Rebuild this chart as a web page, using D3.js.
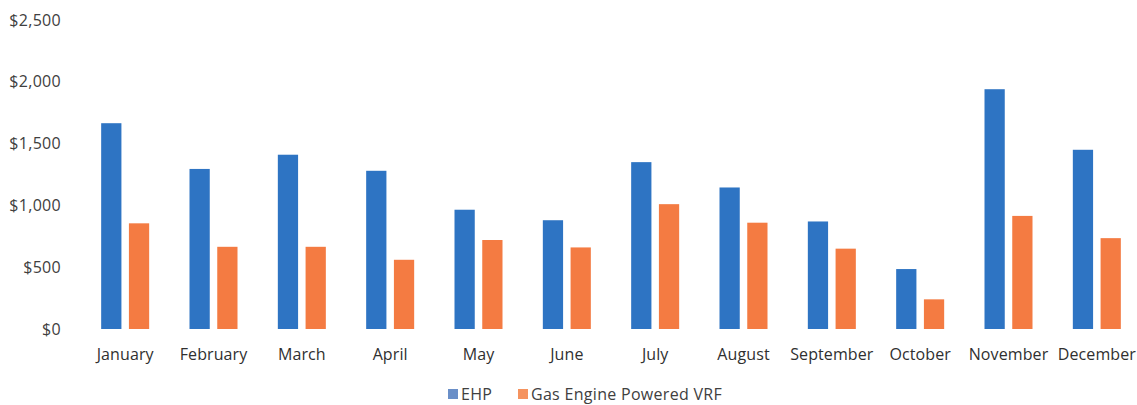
<!DOCTYPE html>
<html lang="en">
<head>
    <meta charset="UTF-8">
    <title>EHP vs Gas Engine VRF</title>
    <script src="https://d3js.org/d3.v7.min.js"></script>
    <style>
        * { margin: 0; padding: 0; box-sizing: border-box; }
        body { background: #fff; font-family: "Open Sans", Arial, sans-serif; }
    </style>
</head>
<body>
    <div id="chart"></div>
    <script>
        const months = ["January", "February", "March", "April", "May", "June",
                        "July", "August", "September", "October", "November", "December"];
        const series = ["EHP", "Gas Engine Powered VRF"];
        const ehp = [1665, 1295, 1410, 1280, 965, 880, 1350, 1145, 870, 485, 1940, 1450];
        const gas = [855, 665, 665, 560, 720, 660, 1010, 860, 650, 240, 915, 735];
        const yTicks = [0, 500, 1000, 1500, 2000, 2500];
        const colors = ["#2e74c3", "#f47b42"];
        const legendColors = ["#6a8fc8", "#f5935f"];

        const W = 1137, H = 405;
        const FONT = "'Open Sans', Arial, sans-serif";
        const svg = d3.select("#chart").append("svg")
            .attr("width", W).attr("height", H);

        const x = d3.scaleBand()
            .domain(months)
            .range([81, 1141])
            .paddingInner(0)
            .paddingOuter(0);

        const x1 = d3.scaleBand()
            .domain(series)
            .range([x.bandwidth() / 2 - 24, x.bandwidth() / 2 + 24])
            .paddingInner(0.27);

        const y = d3.scaleLinear()
            .domain([0, 2500])
            .range([329, 20]);

        // y axis labels
        const yAxis = svg.append("g")
            .attr("transform", "translate(61,0)")
            .call(d3.axisLeft(y).tickValues(yTicks).tickSize(0)
                .tickFormat(d => "$" + d3.format(",")(d)));
        yAxis.select(".domain").remove();
        yAxis.selectAll("text")
            .attr("x", 0)
            .style("font-family", FONT)
            .style("font-size", "16px")
            .style("letter-spacing", "0.3px")
            .attr("fill", "#404040");

        // x axis labels
        const xAxis = svg.append("g")
            .attr("transform", "translate(0,346)")
            .call(d3.axisBottom(x).tickSize(0));
        xAxis.select(".domain").remove();
        xAxis.selectAll("text")
            .attr("dy", "0.71em")
            .style("font-family", FONT)
            .style("font-size", "16px")
            .style("letter-spacing", "0.1px")
            .attr("fill", "#303030");

        const data = months.map((m, i) => ({ month: m, values: [ehp[i], gas[i]] }));

        svg.append("g").selectAll("g")
            .data(data)
            .join("g")
            .attr("transform", d => `translate(${x(d.month)},0)`)
            .selectAll("rect")
            .data(d => series.map((s, j) => ({ s, j, v: d.values[j] })))
            .join("rect")
            .attr("x", d => x1(d.s))
            .attr("width", x1.bandwidth())
            .attr("y", d => y(d.v))
            .attr("height", d => y(0) - y(d.v))
            .attr("fill", d => colors[d.j]);

        // legend
        const legend = svg.append("g").attr("transform", "translate(448,394)");
        const legendX = [0, 70];
        series.forEach((s, i) => {
            const g = legend.append("g").attr("transform", `translate(${legendX[i]},0)`);
            g.append("rect")
                .attr("x", 0).attr("y", -5)
                .attr("width", 10).attr("height", 10)
                .attr("fill", legendColors[i]);
            g.append("text")
                .attr("x", 13).attr("y", 0)
                .attr("dy", "0.35em")
                .style("font-family", FONT)
                .style("font-size", "16px")
                .style("letter-spacing", "0.3px")
                .attr("fill", "#404040")
                .text(s);
        });
    </script>
</body>
</html>
